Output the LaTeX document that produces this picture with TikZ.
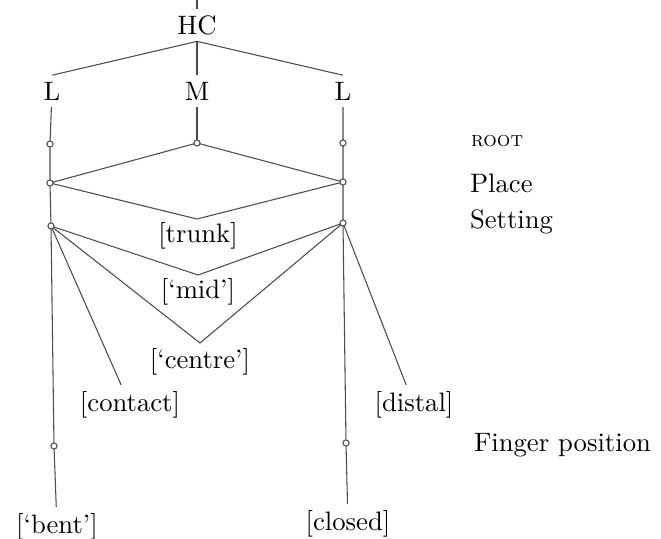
\documentclass[tikz,border=0pt]{standalone}
\begin{document}
\begin{tikzpicture}[y=0.375pt, x=0.375pt, yscale=-1, inner sep=0pt, outer sep=0pt,
  link/.style={draw=black!70,line width=0.4pt},
  ring/.style={circle,draw=black!70,fill=white,line width=0.4pt,minimum size=2.3pt},
  lbl/.style={inner sep=2.5pt},
  tier/.style={anchor=west}]
  \useasboundingbox (0,0) rectangle (661,539);
  \node[lbl] (hc) at (197,25) {HC};
  \node[lbl] (ll) at (52,91) {L};
  \node[lbl] (m) at (197,91) {M};
  \node[lbl] (rl) at (343,91) {L};
  \coordinate (top) at (197,0);
  \node[ring] (lroot) at (50,144) {};
  \node[ring] (mroot) at (197,143) {};
  \node[ring] (rroot) at (343,143) {};
  \node[ring] (lplace) at (50,183) {};
  \node[ring] (rplace) at (343,182) {};
  \node[ring] (lset) at (51,226) {};
  \node[ring] (rset) at (343,223) {};
  \node[ring] (lfing) at (54,446) {};
  \node[ring] (rfing) at (346,443) {};
  \coordinate (vtrunk) at (197,219);
  \coordinate (vmid) at (198,275);
  \coordinate (vcentre) at (200,343);
  \node (trunk) at (198,236) {[trunk]};
  \node (mid) at (198,292) {[`mid']};
  \node (centre) at (200,362) {[`centre']};
  \node[lbl] (contact) at (130,405) {[contact]};
  \node[lbl] (distal) at (414,405) {[distal]};
  \node[lbl] (bent) at (57,527) {[`bent']};
  \node[lbl] (closed) at (348,524) {[closed]};
  \node[tier] (root) at (471,141) {\footnotesize\textsc{root}};
  \node[tier] (place) at (470,183) {Place};
  \node[tier] (setting) at (470,222) {Setting};
  \node[tier] (finger) at (474,445) {Finger position};
  \path[link] (top) -- (hc);
  \path[link] (hc.south) -- (ll.north);
  \path[link] (hc.south) -- (rl.north);
  \path[link] (hc.south) -- (m.north);
  \path[link] (ll) -- (lroot) -- (lplace) -- (lset) -- (lfing) -- (bent);
  \path[link] (m) -- (mroot);
  \path[link] (rl) -- (rroot) -- (rplace) -- (rset) -- (rfing) -- (closed);
  \path[link] (mroot) -- (lplace) -- (vtrunk) -- (rplace) -- (mroot);
  \path[link] (lset) -- (vmid) -- (rset);
  \path[link] (lset) -- (vcentre) -- (rset);
  \path[link] (lset) -- (contact);
  \path[link] (rset) -- (distal);
\end{tikzpicture}
\end{document}
